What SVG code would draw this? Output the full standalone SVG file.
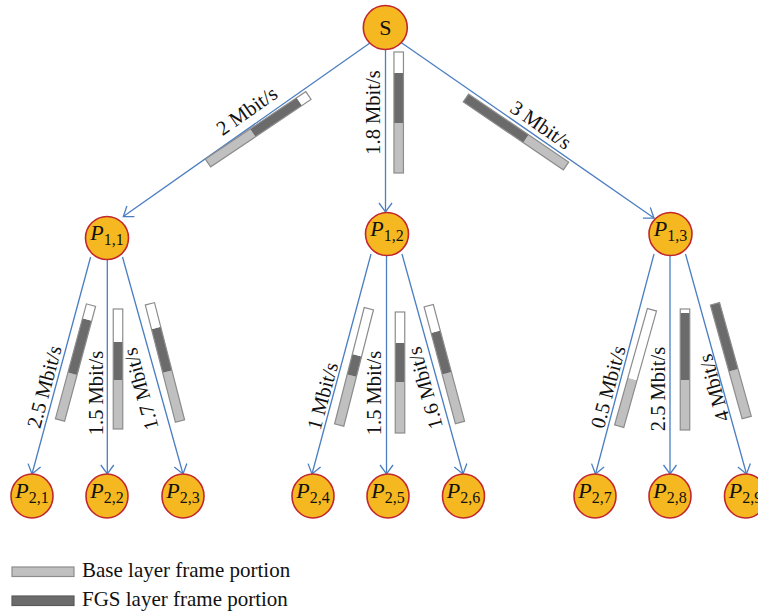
<svg xmlns="http://www.w3.org/2000/svg" width="758" height="613" viewBox="0 0 758 613">
  <style>
    .edge{fill:none;stroke:#4a7ec1;stroke-width:1.3}
    .node{fill:#f5b820;stroke:#c1272d;stroke-width:1.6}
    .lbl{font-family:"Liberation Serif","Times New Roman",serif;font-size:20.5px;fill:#111;text-anchor:middle}
    .nlbl{font-family:"Liberation Serif","Times New Roman",serif;font-size:22px;fill:#111;text-anchor:middle}
    .nlbl .p{font-style:italic}
    .nlbl .sub{font-size:16px}
    .base{fill:#c0c0c0}
    .fgs{fill:#6b6b6b}
    .empty{fill:#ffffff}
    .frame{fill:none;stroke:#8c8c8c;stroke-width:1.2}
    .legend{font-family:"Liberation Serif","Times New Roman",serif;font-size:21px;fill:#111}
  </style>
  <defs>
    <marker id="arr" viewBox="-11 -8 13 16" refX="0" refY="0" markerWidth="13" markerHeight="16" orient="auto" markerUnits="userSpaceOnUse">
      <path d="M-9,-6.5 L0,0 L-9,6.5" fill="none" stroke="#4a7ec1" stroke-width="1.3"/>
    </marker>
  </defs>

  <rect width="758" height="613" fill="#ffffff"/>

  <!-- connectors -->
  <g id="connectors">
    <line class="edge" x1="371.7" y1="41.7" x2="123.3" y2="216.5" marker-end="url(#arr)"/>
    <line class="edge" x1="385.5" y1="50" x2="385.5" y2="212" marker-end="url(#arr)"/>
    <line class="edge" x1="400" y1="41.7" x2="654" y2="218" marker-end="url(#arr)"/>
    <line class="edge" x1="90.6" y1="257" x2="32" y2="474" marker-end="url(#arr)"/>
    <line class="edge" x1="107.3" y1="259" x2="107.3" y2="474" marker-end="url(#arr)"/>
    <line class="edge" x1="122.5" y1="257" x2="183" y2="474" marker-end="url(#arr)"/>
    <line class="edge" x1="371" y1="254" x2="312" y2="474" marker-end="url(#arr)"/>
    <line class="edge" x1="386.5" y1="255.5" x2="386.5" y2="474" marker-end="url(#arr)"/>
    <line class="edge" x1="402" y1="254" x2="463" y2="474" marker-end="url(#arr)"/>
    <line class="edge" x1="654" y1="254" x2="595.5" y2="474" marker-end="url(#arr)"/>
    <line class="edge" x1="670" y1="255.5" x2="670" y2="474" marker-end="url(#arr)"/>
    <line class="edge" x1="685.5" y1="254" x2="746.5" y2="474" marker-end="url(#arr)"/>
  </g>

  <!-- frame portion bars: base (light), FGS (dark), unused (white) -->
  <g id="bars">
    <g transform="translate(208,163) rotate(-33.9)">
      <rect class="base" x="0" y="-4.75" width="54" height="9.5"/>
      <rect class="fgs" x="54" y="-4.75" width="56" height="9.5"/>
      <rect class="empty" x="110" y="-4.75" width="11" height="9.5"/>
      <rect class="frame" x="0" y="-4.75" width="121" height="9.5"/>
    </g>
    <g transform="translate(398.7,173) rotate(-90)">
      <rect class="base" x="0" y="-4.75" width="50" height="9.5"/>
      <rect class="fgs" x="50" y="-4.75" width="50" height="9.5"/>
      <rect class="empty" x="100" y="-4.75" width="21" height="9.5"/>
      <rect class="frame" x="0" y="-4.75" width="121" height="9.5"/>
    </g>
    <g transform="translate(566,166) rotate(-145.8)">
      <rect class="base" x="0" y="-4.75" width="48.5" height="9.5"/>
      <rect class="fgs" x="48.5" y="-4.75" width="72.5" height="9.5"/>
      <rect class="frame" x="0" y="-4.75" width="121" height="9.5"/>
    </g>

    <g transform="translate(60,420) rotate(-74.9)">
      <rect class="base" x="0" y="-4.75" width="48" height="9.5"/>
      <rect class="fgs" x="48" y="-4.75" width="56" height="9.5"/>
      <rect class="empty" x="104" y="-4.75" width="15" height="9.5"/>
      <rect class="frame" x="0" y="-4.75" width="119" height="9.5"/>
    </g>
    <g transform="translate(118,429) rotate(-90)">
      <rect class="base" x="0" y="-4.75" width="49" height="9.5"/>
      <rect class="fgs" x="49" y="-4.75" width="38" height="9.5"/>
      <rect class="empty" x="87" y="-4.75" width="33" height="9.5"/>
      <rect class="frame" x="0" y="-4.75" width="120" height="9.5"/>
    </g>
    <g transform="translate(180,421) rotate(-104.4)">
      <rect class="base" x="0" y="-4.75" width="51" height="9.5"/>
      <rect class="fgs" x="51" y="-4.75" width="45" height="9.5"/>
      <rect class="empty" x="96" y="-4.75" width="25" height="9.5"/>
      <rect class="frame" x="0" y="-4.75" width="121" height="9.5"/>
    </g>

    <g transform="translate(339.2,425) rotate(-75.7)">
      <rect class="base" x="0" y="-4.75" width="51" height="9.5"/>
      <rect class="fgs" x="51" y="-4.75" width="21" height="9.5"/>
      <rect class="empty" x="72" y="-4.75" width="48" height="9.5"/>
      <rect class="frame" x="0" y="-4.75" width="120" height="9.5"/>
    </g>
    <g transform="translate(400,433) rotate(-90)">
      <rect class="base" x="0" y="-4.75" width="51" height="9.5"/>
      <rect class="fgs" x="51" y="-4.75" width="39" height="9.5"/>
      <rect class="empty" x="90" y="-4.75" width="31" height="9.5"/>
      <rect class="frame" x="0" y="-4.75" width="121" height="9.5"/>
    </g>
    <g transform="translate(460,422.5) rotate(-105)">
      <rect class="base" x="0" y="-4.75" width="51" height="9.5"/>
      <rect class="fgs" x="51" y="-4.75" width="43" height="9.5"/>
      <rect class="empty" x="94" y="-4.75" width="27" height="9.5"/>
      <rect class="frame" x="0" y="-4.75" width="121" height="9.5"/>
    </g>

    <g transform="translate(619.2,426.2) rotate(-74.3)">
      <rect class="base" x="0" y="-4.75" width="49" height="9.5"/>
      <rect class="empty" x="49" y="-4.75" width="72" height="9.5"/>
      <rect class="frame" x="0" y="-4.75" width="121" height="9.5"/>
    </g>
    <g transform="translate(685,430) rotate(-90)">
      <rect class="base" x="0" y="-4.75" width="50" height="9.5"/>
      <rect class="fgs" x="50" y="-4.75" width="67" height="9.5"/>
      <rect class="empty" x="117" y="-4.75" width="4" height="9.5"/>
      <rect class="frame" x="0" y="-4.75" width="121" height="9.5"/>
    </g>
    <g transform="translate(746.7,417.5) rotate(-105.6)">
      <rect class="base" x="0" y="-4.75" width="49" height="9.5"/>
      <rect class="fgs" x="49" y="-4.75" width="69" height="9.5"/>
      <rect class="frame" x="0" y="-4.75" width="118" height="9.5"/>
    </g>
  </g>

  <!-- link rate labels -->
  <g id="rates">
    <text class="lbl" transform="translate(246.7,110.7) rotate(-35)" y="7">2 Mbit/s</text>
    <text class="lbl" transform="translate(373.3,112.5) rotate(-90)" y="7">1.8 Mbit/s</text>
    <text class="lbl" transform="translate(541,125) rotate(34.8)" y="7">3 Mbit/s</text>
    <text class="lbl" transform="translate(44.2,386.7) rotate(-74.9)" y="7">2.5 Mbit/s</text>
    <text class="lbl" transform="translate(95.8,393) rotate(-90)" y="7">1.5 Mbit/s</text>
    <text class="lbl" transform="translate(140.8,389) rotate(-105.6)" y="7">1.7 Mbit/s</text>
    <text class="lbl" transform="translate(322.5,396) rotate(-74.9)" y="7">1 Mbit/s</text>
    <text class="lbl" transform="translate(374,393) rotate(-90)" y="7">1.5 Mbit/s</text>
    <text class="lbl" transform="translate(425,388) rotate(-105.6)" y="7">1.6 Mbit/s</text>
    <text class="lbl" transform="translate(608,387) rotate(-74.9)" y="7">0.5 Mbit/s</text>
    <text class="lbl" transform="translate(657.5,389) rotate(-90)" y="7">2.5 Mbit/s</text>
    <text class="lbl" transform="translate(714,388) rotate(-105.6)" y="7">4 Mbit/s</text>
  </g>

  <!-- nodes -->
  <g id="node-S">
    <circle class="node" cx="385.3" cy="27.5" r="22"/>
    <text class="nlbl" x="385.3" y="35">S</text>
  </g>
  <g id="node-P11">
    <circle class="node" cx="107" cy="238" r="21.5"/>
    <text class="nlbl" x="107" y="240"><tspan class="p">P</tspan><tspan class="sub" dy="5">1,1</tspan></text>
  </g>
  <g id="node-P12">
    <circle class="node" cx="387" cy="234" r="21.5"/>
    <text class="nlbl" x="387" y="236"><tspan class="p">P</tspan><tspan class="sub" dy="5">1,2</tspan></text>
  </g>
  <g id="node-P13">
    <circle class="node" cx="670.5" cy="234" r="21.5"/>
    <text class="nlbl" x="670.5" y="236"><tspan class="p">P</tspan><tspan class="sub" dy="5">1,3</tspan></text>
  </g>
  <g id="node-P21">
    <ellipse class="node" cx="32" cy="496" rx="21" ry="22"/>
    <text class="nlbl" x="32" y="498"><tspan class="p">P</tspan><tspan class="sub" dy="5">2,1</tspan></text>
  </g>
  <g id="node-P22">
    <ellipse class="node" cx="107" cy="496" rx="21" ry="22"/>
    <text class="nlbl" x="107" y="498"><tspan class="p">P</tspan><tspan class="sub" dy="5">2,2</tspan></text>
  </g>
  <g id="node-P23">
    <ellipse class="node" cx="183" cy="496" rx="21" ry="22"/>
    <text class="nlbl" x="183" y="498"><tspan class="p">P</tspan><tspan class="sub" dy="5">2,3</tspan></text>
  </g>
  <g id="node-P24">
    <ellipse class="node" cx="313" cy="496" rx="21" ry="22"/>
    <text class="nlbl" x="313" y="498"><tspan class="p">P</tspan><tspan class="sub" dy="5">2,4</tspan></text>
  </g>
  <g id="node-P25">
    <ellipse class="node" cx="388" cy="496" rx="21" ry="22"/>
    <text class="nlbl" x="388" y="498"><tspan class="p">P</tspan><tspan class="sub" dy="5">2,5</tspan></text>
  </g>
  <g id="node-P26">
    <ellipse class="node" cx="463.5" cy="496" rx="21" ry="22"/>
    <text class="nlbl" x="463.5" y="498"><tspan class="p">P</tspan><tspan class="sub" dy="5">2,6</tspan></text>
  </g>
  <g id="node-P27">
    <ellipse class="node" cx="595" cy="496" rx="21" ry="22"/>
    <text class="nlbl" x="595" y="498"><tspan class="p">P</tspan><tspan class="sub" dy="5">2,7</tspan></text>
  </g>
  <g id="node-P28">
    <ellipse class="node" cx="670" cy="496" rx="21" ry="22"/>
    <text class="nlbl" x="670" y="498"><tspan class="p">P</tspan><tspan class="sub" dy="5">2,8</tspan></text>
  </g>
  <g id="node-P29">
    <ellipse class="node" cx="745.5" cy="496" rx="21" ry="22"/>
    <text class="nlbl" x="745.5" y="498"><tspan class="p">P</tspan><tspan class="sub" dy="5">2,9</tspan></text>
  </g>

  <!-- legend -->
  <g id="legend">
    <rect class="base" x="12" y="567" width="62" height="9.5" stroke="#8c8c8c" stroke-width="1.2"/>
    <text class="legend" x="82" y="577">Base layer frame portion</text>
    <rect class="fgs" x="12" y="596" width="62" height="9.5" stroke="#5a5a5a" stroke-width="1.2"/>
    <text class="legend" x="82" y="606">FGS layer frame portion</text>
  </g>
</svg>
